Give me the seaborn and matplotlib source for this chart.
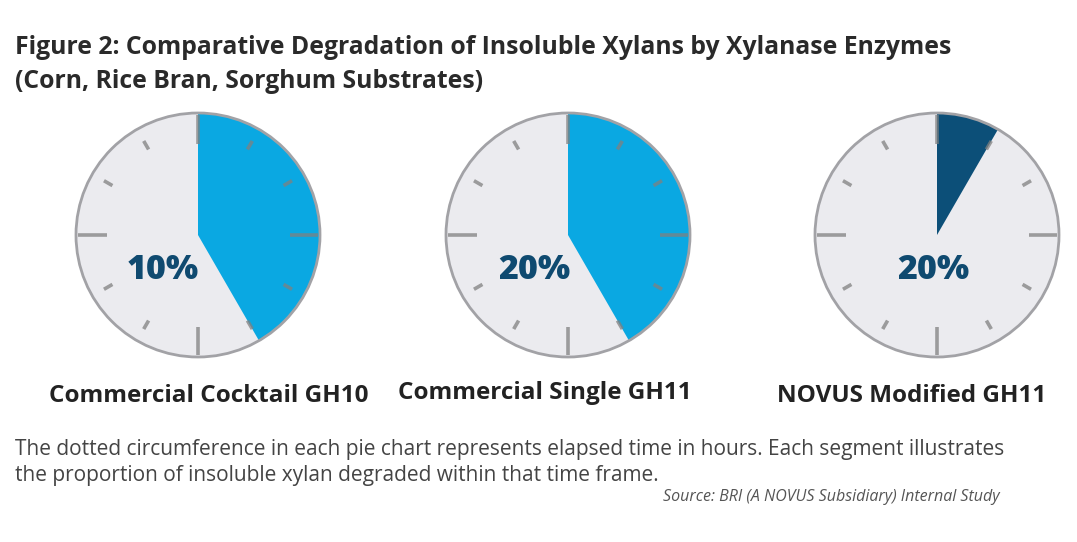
import numpy as np
import matplotlib
matplotlib.use("Agg")
import matplotlib.pyplot as plt
import seaborn as sns

# data
enzymes = ["Commercial Cocktail GH10", "Commercial Single GH11", "NOVUS Modified GH11"]
hours_elapsed = [5, 5, 1]          # slice of the 12-hour dial
degraded_pct = [10, 20, 20]        # label inside each dial
clock_hours = 12

wedge_colors = ["#0aa8e2", "#0aa8e2", "#0c4f78"]
face_color = "#ebebef"
tick_color = "#808080"
pct_color = "#0f4a70"

sns.set_theme(style="white")
plt.rcParams["font.family"] = ["Open Sans", "DejaVu Sans"]

W, H = 1077, 542
fig = plt.figure(figsize=(W / 100, H / 100), dpi=100)
fig.patch.set_facecolor("white")

centers_px = [(198, 235), (568, 235), (937, 235)]
radius_px = 122
pad = 1.06
pct_offsets = [(-0.29, -0.29), (-0.28, -0.29), (-0.03, -0.29)]
label_pos = [(209, 396), (545, 393), (912, 396)]

for i, name in enumerate(enzymes):
    cx, cy = centers_px[i]
    half = radius_px * pad
    ax = fig.add_axes([(cx - half) / W, (H - cy - half) / H, 2 * half / W, 2 * half / H])
    ax.set_xlim(-pad, pad)
    ax.set_ylim(-pad, pad)
    ax.set_aspect("equal")
    ax.axis("off")

    # dial face
    face = plt.Circle((0, 0), 1.0, facecolor=face_color, edgecolor="none", zorder=1)
    ax.add_patch(face)
    # degraded segment, clockwise from 12 o'clock
    ax.pie([hours_elapsed[i], clock_hours - hours_elapsed[i]], radius=1.0,
           startangle=90, counterclock=False,
           colors=[wedge_colors[i], "none"],
           wedgeprops=dict(linewidth=0, zorder=2))
    ax.set_xlim(-pad, pad)
    ax.set_ylim(-pad, pad)
    rim = plt.Circle((0, 0), 1.0, facecolor="none", edgecolor="#a2a2a6", linewidth=2.0, zorder=4)
    ax.add_patch(rim)

    # hour ticks
    for h in range(clock_hours):
        ang = np.pi / 2 - 2 * np.pi * h / clock_hours
        if h % 3 == 0:
            r0, r1, lw = 0.75, 0.98, 2.6
        else:
            r0, r1, lw = 0.81, 0.89, 2.6
        ax.plot([r0 * np.cos(ang), r1 * np.cos(ang)], [r0 * np.sin(ang), r1 * np.sin(ang)],
                color=tick_color, linewidth=lw, alpha=0.75, solid_capstyle="butt", zorder=3)

    dx, dy = pct_offsets[i]
    ax.text(dx, dy, f"{degraded_pct[i]}%", ha="center", va="center",
            fontsize=24.5, fontweight="heavy", color=pct_color, zorder=5)

    lx, ly = label_pos[i]
    fig.text(lx / W, 1 - ly / H, name, ha="center", va="center",
             fontsize=17.5, fontweight="bold", color="#222222")

fig.text(15 / W, 1 - 47 / H,
         "Figure 2: Comparative Degradation of Insoluble Xylans by Xylanase Enzymes",
         ha="left", va="center", fontsize=17.8, fontweight="bold", color="#2a2a2a")
fig.text(15 / W, 1 - 82 / H, "(Corn, Rice Bran, Sorghum Substrates)",
         ha="left", va="center", fontsize=17.8, fontweight="bold", color="#2a2a2a")

fig.text(15 / W, 1 - 450 / H,
         "The dotted circumference in each pie chart represents elapsed time in hours. "
         "Each segment illustrates",
         ha="left", va="center", fontsize=15, color="#444444")
fig.text(15 / W, 1 - 475 / H,
         "the proportion of insoluble xylan degraded within that time frame.",
         ha="left", va="center", fontsize=15, color="#444444")
fig.text(1000 / W, 1 - 497 / H, "Source: BRI (A NOVUS Subsidiary) Internal Study",
         ha="right", va="center", fontsize=11.5, style="italic", color="#555555")

fig.savefig("out.png", dpi=100, facecolor="white")
